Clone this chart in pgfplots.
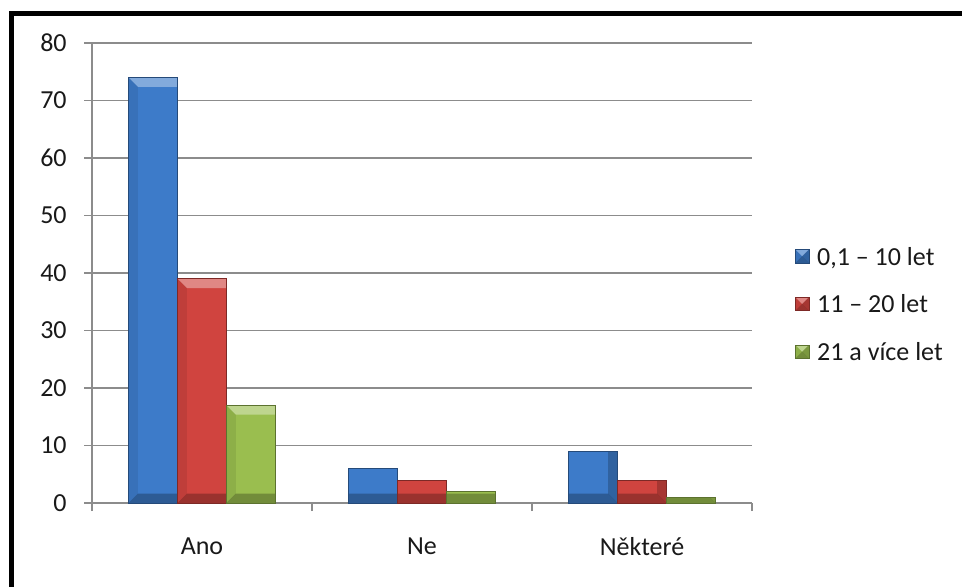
\documentclass[border=0pt]{standalone}
\usepackage{fontspec}
\setmainfont{Carlito}
\usepackage{pgfplots}
\pgfplotsset{compat=1.18}

\definecolor{serA}{HTML}{3D7BC9}
\definecolor{serB}{HTML}{D0443F}
\definecolor{serC}{HTML}{9ABE4F}
\definecolor{gridgray}{HTML}{8C8C8C}

% corners of the current bar
\newcommand\bb[1]{\pgfpointanchor{path picture bounding box}{#1}}
\newcommand\bbs[3]{\pgfpointadd{\bb{#1}}{\pgfpoint{#2}{#3}}}
% one facet of the bevel: outer edge #1--#2, inner edge #3--#4
\newcommand\facet[6]{%
  \pgfsetfillcolor{#5}\pgfsetfillopacity{#6}%
  \pgfpathmoveto{#1}\pgfpathlineto{#2}\pgfpathlineto{#3}\pgfpathlineto{#4}%
  \pgfpathclose\pgfusepath{fill}}

% bevelled bar face: light top facet, shaded sides and foot
\tikzset{
  bevel/.style={
    fill=#1, draw=#1!60!black, line width=0.5pt,
    path picture={
      \pgfpointdiff{\bb{south west}}{\bb{north east}}
      \pgfgetlastxy{\bw}{\bh}
      \pgfmathsetlengthmacro\d{min(7pt,0.5*\bh,0.5*\bw)}
      \pgfmathsetlengthmacro\md{-\d}
      \facet{\bb{north west}}{\bb{north east}}{\bbs{north east}{\md}{\md}}{\bbs{north west}{\d}{\md}}{white}{0.36}
      \facet{\bb{south west}}{\bb{south east}}{\bbs{south east}{\md}{\d}}{\bbs{south west}{\d}{\d}}{black}{0.26}
      \facet{\bb{south west}}{\bb{north west}}{\bbs{north west}{\d}{\md}}{\bbs{south west}{\d}{\d}}{black}{0.08}
      \facet{\bb{south east}}{\bb{north east}}{\bbs{north east}{\md}{\md}}{\bbs{south east}{\md}{\d}}{black}{0.20}
    }
  }
}

\pgfplotstableread{
x  young mid old
0  74    39  17
1  6     4   2
2  9     4   1
}\answers

\begin{document}
\begin{tikzpicture}[font=\fontsize{19.5}{23}\selectfont]
  \path[use as bounding box] (0,0) rectangle (721.5pt,439.5pt);
  \begin{scope}
    \clip (0,0) rectangle (721.5pt,439.5pt);
    \draw[line width=3.75pt] (8.6pt,-20pt) -- (8.6pt,429.4pt) -- (760pt,429.4pt);
  \end{scope}
  \begin{axis}[
    at={(69pt,62.25pt)}, anchor=south west,
    scale only axis, width=495pt, height=345pt,
    ybar=0pt, bar width=36.7pt,
    xmin=-0.5, xmax=2.5, ymin=0, ymax=80,
    xtick={0,1,2}, xticklabels={Ano, Ne, Některé},
    minor xtick={-0.5,0.5,1.5,2.5},
    ytick distance=10,
    axis x line*=bottom, axis y line*=left,
    axis line style={draw=gridgray, line width=0.8pt},
    tick align=outside,
    major tick length=6pt, minor tick length=6pt,
    x tick style={/pgfplots/major tick length=0pt},
    tick style={draw=gridgray, line width=0.8pt},
    minor tick style={draw=gridgray, line width=0.8pt},
    ymajorgrids, grid style={draw=gridgray, line width=0.8pt},
    /pgf/number format/assume math mode=true,
    ticklabel style={font=\fontsize{19.5}{23}\selectfont, text=black!90},
    yticklabel style={xshift=-9.5pt},
    xticklabel style={yshift=-16.5pt},
    legend style={at={(1.065,0.563)}, anchor=north west, draw=none, fill=none,
      font=\fontsize{19.5}{23}\selectfont, text=black!90, row sep=16.75pt,
      legend cell align=left, inner sep=0pt},
    legend image code/.code={
      \path[#1] (0pt,-4.5pt) rectangle (10pt,5.5pt);
      \path (14pt,0pt);
    },
  ]
    \addplot[bevel=serA] table[x=x,y=young] {\answers};
    \addplot[bevel=serB] table[x=x,y=mid] {\answers};
    \addplot[bevel=serC] table[x=x,y=old] {\answers};
    \legend{{0,1 – 10 let}, {11 – 20 let}, {21 a více let}}
  \end{axis}
\end{tikzpicture}
\end{document}
